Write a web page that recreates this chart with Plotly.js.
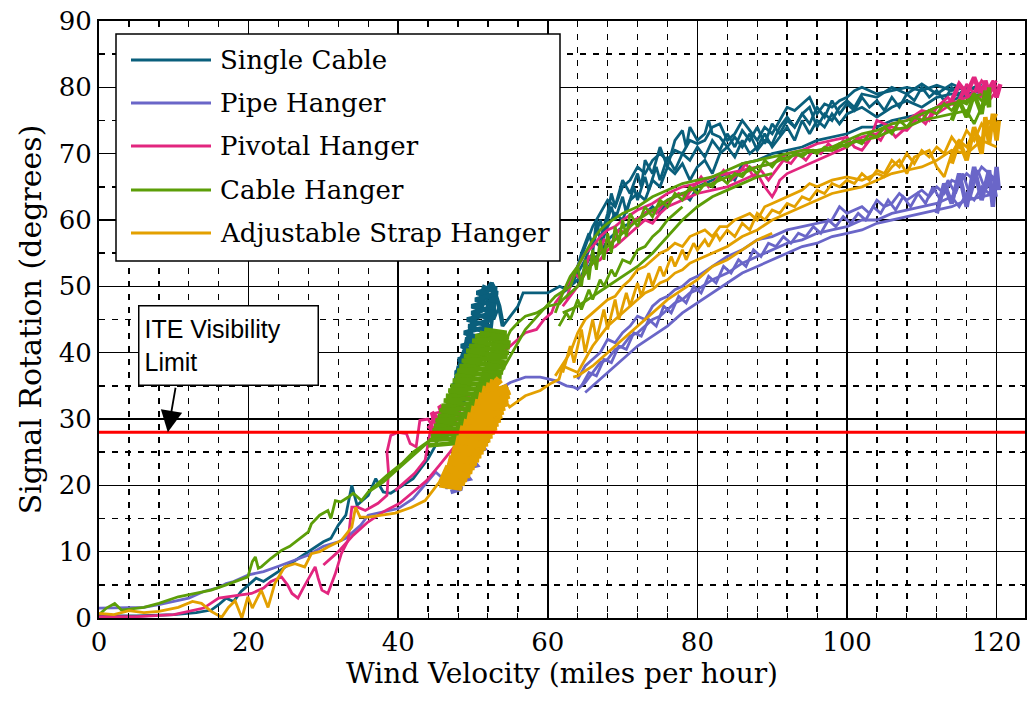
<!DOCTYPE html>
<html>
<head>
<meta charset="utf-8">
<script src="https://cdn.plot.ly/plotly-3.0.1.min.js"></script>
<style>html,body{margin:0;padding:0;background:#fff;}#chart{width:1028px;height:703px;}</style>
</head>
<body>
<div id="chart"></div>
<script>
// ---- Data (wind velocity mph, signal rotation degrees), each series = several test runs ----
const seriesNames = ["Single Cable", "Pipe Hanger", "Pivotal Hanger", "Cable Hanger", "Adjustable Strap Hanger"];
const seriesColors = ["#0a5f7c", "#6a66c8", "#e2267f", "#5c9e08", "#e3a000"];
const iteLimit = 28;

// long runs (traced as normal lines)
const singleCableRuns = [
  [[0,0.3],[5,0.3],[10,0.5],[13,0.8],[15,1.2],[16,2],[17,3],[18,2.5],[19,4],[20,5],[21,6],[22,5.5],[24,7],[26,8.5],[28,10],[30,11.5],[31,12],[32,14],[33,15.5],[33.8,20],[34.5,17],[35,17.5],[36,18.5],[37,21],[38,19],[39,18.8],[40,19.5],[42,21],[43,22.5],[44,24],[45,26],[46,29],[46.5,31],[47.5,35],[47,33],[48,38],[47.6,36],[48.6,40],[48.1,37],[49.1,42],[48.6,39],[49.6,44],[49.1,41],[50.1,46],[49.6,42],[50.6,47],[50.1,44],[51.1,49],[50.6,45],[51.6,49.5],[51.1,46],[52,50],[51.8,44],[52.6,48],[52.3,42],[53.1,50],[52.8,45],[53.5,47],[54,44],[55,45.5],[56,47],[56.7,49],[58,49],[60,49],[61.6,50],[62.5,49.5],[63.4,51],[64,53],[65,56],[66,59],[67,61],[68,63],[69,62],[70,65],[71,66],[72,68],[73,67],[74,69],[75,70],[76,69],[77,70.5],[78,70],[79,72],[80,71.5],[81,72],[82,74],[83,74.5],[84,72],[85,73],[86,75],[87,73.5],[88,72],[89,74],[90,73],[91,75],[92,77],[93,76.5],[94,77.5],[95,78.5],[96,76],[97,77.5],[98,77],[99,78],[100,78.5],[101,79.5],[102,80],[104,79],[106,79.5],[108,80],[110,79.5],[112,80.3],[114,79.5],[116,80],[118,79.5],[119,80]],
  [[62,49],[63,50],[64,52],[65,54],[66,57],[67,56],[68,59],[69,61],[70,60],[71,63],[72,64],[73,63],[74,66],[75,65],[76,68],[77,67],[78,68.5],[79,66],[80,68],[81,69],[82,67],[83,70],[84,71],[85,69.5],[86,72],[87,70],[88,71],[89,73],[90,71],[91,72.5],[92,74],[93,72],[94,75],[95,73],[96,75],[97,74],[98,76],[99,74.5],[100,76],[102,77],[104,75.5],[106,77],[108,78],[110,77],[112,78.5],[114,79],[116,78.5],[118,79]],
  [[63,50],[64,51],[65,52],[66,54],[67,55],[68,57],[69,58],[70,59],[72,60],[74,62],[75,61],[76,63],[78,64],[79,63],[80,65],[82,66],[84,67],[85,66],[86,68.5],[88,69],[90,70],[92,70.5],[94,71],[96,72],[98,72.5],[100,73],[102,74],[104,74],[106,75],[108,75.5],[110,76],[112,77],[114,78],[116,79],[118,79.5]],
  [[63.5,51],[64.5,55],[65.5,58],[66,56],[67,60],[67.5,58],[68.5,62],[69,60],[70,63.5],[70.5,61],[71.5,65],[72,63],[73,66.5],[73.5,64.5],[74.5,68],[75,66],[76,69.5],[77,67.5],[78,70],[79,69],[80,71],[81,69.5],[82,72],[83,70.5],[84,73],[85,71],[86,73.5],[87,72],[88,74],[89,71.5],[90,74.5],[91,73],[92,75],[93,74],[94,76],[95,74.5],[96,77],[97,75.5],[98,78],[99,76],[100,77.5],[101,76.5],[102,78.5],[103,77],[104,78],[105,76.5],[106,78.5],[107,77],[108,79],[109,78],[110,80],[111,78.5],[112,79.5],[113,78],[114,80],[115,79],[116,80]],
  [[64,50],[65,53],[66,55],[66.5,60],[67,57],[68,61],[68.5,64],[69,62],[70,66],[71,64],[72,67],[72.5,65],[73,69],[74,67],[75,71],[76,68],[77,72],[78,73.5],[78.5,71],[79,74],[80,72],[81,73],[81.5,75],[82,73],[83,72.5],[84,71],[85,72.5],[86,71],[87,73],[88,70.5],[89,72],[90,71.5],[91,74],[92,75.5],[93,74],[94,76],[95,77],[96,74],[97,76],[98,75],[99,77],[100,78],[101,77],[102,79],[104,78.5],[106,80],[108,79],[110,80.5],[112,79],[114,80.5],[116,79.5],[118,80.5]]
];
// dense clusters (traced with a heavier stroke)
const singleCableBlob = [
  [[46.5,31],[48.5,32],[46.8,33],[49.2,34],[47.2,35],[49.8,36],[47.6,37],[50.4,38],[48,39],[51,40],[48.4,41],[51.6,42],[48.8,43],[52.2,44],[49.2,45],[52.8,46],[49.8,47],[53.2,48],[50.5,49],[53,50],[51.5,49],[52.5,50.5],[53.5,47],[54,44]],
  [[47,32],[49,33],[47.4,34],[49.6,35],[47.8,36],[50.2,37],[48.2,38],[50.8,39],[48.6,40],[51.4,41],[49,42],[52,43],[49.4,44],[52.6,45],[49.8,46],[53,47],[50.3,48],[53.3,49],[51.2,50]]
];

const pipeHangerRuns = [
  [[0,1.5],[3,1.5],[6,1.6],[8,2],[10,2.5],[12,3],[14,4],[16,4.6],[17,5.2],[18,5.5],[20,6.5],[22,7],[24,7.8],[26,8.7],[28,9.5],[30,10.8],[32,11.5],[33,12],[34,13],[35,14],[36,15.5],[38,16],[40,16.5],[42,18],[43.5,20],[45,22],[46,21],[46.5,19.5],[47,21],[47.5,19.8],[48,22],[48.5,21],[49,24],[49.5,23],[50,26],[50.5,25],[51,28],[51.5,30],[52,31],[52.5,33],[53.5,34.5],[55,35.5],[57,36.3],[59,36.3],[61,35.8],[62.5,35],[63.5,34.8],[64,34.5],[65,35.5],[66,37],[67,38.5],[68,39],[69,40.5],[70,41],[71,42.5],[72,43],[73,44],[74,45],[75,45.5],[76,46.5],[77,47.5],[78,48],[79,49],[80,49.5],[82,51],[84,52],[86,53.5],[88,54.5],[90,55.5],[92,56.5],[94,57],[96,58],[98,58.5],[100,59],[102,60],[104,60],[106,61],[108,61.5],[110,62],[112,62.5],[114,63.5],[115,62],[116,64],[117,63],[118,65],[119,64],[120,65.5]],
  [[64,36],[65,38],[66,39],[67,40],[68,42],[69,41.5],[70,43],[71,44],[72,45.5],[73,45],[74,47],[75,48],[76,48.5],[77,49.5],[78,50],[79,51],[80,51.5],[82,53],[84,54.5],[86,55.5],[88,57],[90,57.5],[92,58.5],[94,59],[96,59.5],[98,60],[99,62],[100,61],[102,62],[103,61],[104,63],[105,62],[106,62.5],[107,64],[108,63],[110,64.5],[111,63.5],[112,65],[113,64],[114,66],[115,65.5],[116,67],[117,66],[118,68],[119,67],[120,66]],
  [[65,34],[66,35],[67,36],[68,37],[69,38],[70,39],[71,40],[72,41],[74,42.5],[76,44],[78,46],[80,47.5],[82,49],[84,50.5],[86,52],[88,53],[90,54],[92,55],[94,56],[96,56.5],[98,57.5],[100,58],[102,58.5],[104,59.5],[106,60],[108,60.5],[110,61],[112,61.5],[114,62],[116,63],[118,63.5],[120,64]],
  [[64.5,35],[65.5,37],[66.5,36.5],[67.5,39],[68.5,38.5],[69.5,41],[70.5,40.5],[71.5,43],[72.5,42.5],[73.5,45],[74.5,44],[75.5,47],[76.5,46],[77.5,48.5],[78.5,47.5],[79.5,50],[80.5,49],[81.5,51.5],[82.5,50.5],[83.5,53],[84.5,52],[85.5,54],[86.5,53],[87.5,55.5],[88.5,54.5],[89.5,56.5],[90.5,56],[91.5,57.5],[92.5,56.5],[93.5,58],[94.5,57.5],[95.5,59],[96.5,58],[97.5,60],[98.5,59],[99.5,60.5],[100.5,59.5],[101.5,61],[102.5,60],[103.5,62],[104.5,61],[105.5,63],[106.5,61.5],[107.5,63.5],[108.5,62],[109.5,64],[110.5,62.5],[111.5,65],[112.5,63],[113.5,66],[114.5,64],[115.5,67],[116.5,63.5],[117.5,67.5],[118.5,64.5],[119.5,66.5],[120,63.5]]
];
const pipeHangerBlob = [
  [[47,19],[48.5,19.5],[47.5,20.5],[49.5,21],[48.5,22.5],[50.5,23],[49.5,24.5],[51.5,25.5],[50.5,27],[52.5,28],[51.5,29],[53,30.5],[52.5,31.5],[53.5,33]],
  [[112,61],[113,65.5],[114,62.5],[115,67],[116,62],[117,68],[118,63],[119,67.5],[119.5,62],[120,68],[120.3,64.5]]
];

const pivotalHangerRuns = [
  [[0,0.2],[5,0.2],[10,0.5],[14,1.5],[16,3],[18.6,3.4],[20.4,3.7],[22,4.5],[23,5.5],[24.4,6.2],[25.2,5],[25.8,3.7],[26.6,3],[27.3,4.5],[27.9,5.7],[28.9,7.7],[29.3,6],[29.8,4.2],[30.6,3.7],[31.6,6.7],[32.4,9.7],[33.3,11.7],[33.8,16.7],[34.6,16.7],[35.6,16.2],[37.3,17.3],[38.5,18.5],[38.7,22],[38.5,25],[39,27.5],[40,28],[41.1,27.8],[41.6,26.3],[42.4,25.8],[42.9,29.8],[44,30],[45,28],[46,31],[46.5,27],[47,30],[47.5,26],[48,29.5],[48.5,27],[49,31],[49.5,28],[50,33],[50.5,30],[51,35],[51.5,33],[52,38],[53,39],[54,40],[55,41],[56,42],[57,43],[58.5,43.5],[59.5,45],[60.5,46],[61,47.5],[62,49],[63,51],[64,53],[65,55],[66,56],[67,57.5],[68,58.5],[69,59],[70,60],[72,61.5],[74,62.5],[76,64],[78,65],[80,65.5],[82,66.5],[84,67],[86,67.5],[88,68],[90,68.5],[92,70],[94,70.5],[96,71.5],[98,72],[100,72.5],[101,71],[102,70.5],[103,72],[104,75],[106,74],[108,73.5],[110,76],[111,75],[112,77],[114,78],[115,77.5],[116,80.5],[117,79],[118,81],[119,79.5],[120,81]],
  [[30,8],[32,10],[34,12.5],[36,14.5],[38,16],[40.2,17.3],[42,19],[43.8,20.7],[45.5,23],[47,25],[48,26.5]],
  [[39.6,19.2],[42.2,21.8],[43.6,23.8],[44.7,30.8],[46.5,31.3],[47.5,29],[48.5,32],[49.5,30],[50.5,34],[51.5,36]],
  [[62,47],[63,48.5],[64,50],[65,52],[66,53.5],[67,54],[68,55.5],[69,56],[70,57],[71,58],[72,59],[73,60],[74,59.5],[75,61],[76,62],[78,63],[80,64],[82,64.5],[84,65],[86,66],[88,67],[89,65],[90,63.5],[90.5,64.5],[91,66],[92,67],[94,68],[96,69],[98,70],[100,71],[102,72.5],[104,73],[106,74.5],[108,75],[110,76.5],[112,76],[114,77.5],[116,78.5],[118,80],[119,78],[120,79.5]],
  [[62.5,48],[63.5,52],[64.5,51],[65.5,54.5],[66.5,54],[67.5,57],[68.5,56.5],[69.5,58.5],[70.5,58],[71.5,60],[72.5,60.5],[73.5,61.5],[74.5,61],[75.5,62.5],[76.5,63],[77.5,64],[78.5,63.5],[79.5,65],[80.5,66.5],[81.5,65],[82.5,66],[83.5,67.5],[84.5,66],[85.5,67],[86.5,68.5],[87.5,66.5],[88.5,67.5],[89.5,66],[90.5,67.5],[91.5,69],[92.5,68.5],[93.5,70],[94.5,69],[95.5,70.5],[96.5,70],[97.5,71.5],[98.5,70.5],[99.5,72],[100.5,71.5],[101.5,72.5],[102.5,71.5],[103.5,73],[104.5,72],[105.5,74],[106.5,72.5],[107.5,73.5],[108.5,74.5],[109.5,75.5],[110.5,74.5],[111.5,76.5],[112.5,77.5],[113.5,78.5],[114.5,77],[115.5,79.5],[116.5,78],[117.5,80.5],[118.5,79],[119.5,81],[120,80]]
];
const pivotalHangerBlob = [
  [[44,29],[45.5,27.5],[44.5,31],[46.5,28.5],[45.5,32],[47.5,30],[46.5,33],[48.5,31.5],[47.5,34],[49.5,33],[48.5,35]],
  [[114,78],[115,80.5],[116,79],[117,81.5],[118,78.5],[118.5,81],[119,79],[119.5,80.5],[120,78.5],[120.5,80.5]]
];

const cableHangerRuns = [
  [[0,0.5],[1,1.5],[2.1,2.2],[3,1.2],[6,1.6],[8,2.2],[10.6,3.2],[13,3.8],[15,4.2],[17,5],[18.6,5.7],[19.9,6.2],[20.5,8.5],[20.9,9.2],[21.3,7.5],[21.7,7.7],[23,9],[24.4,10.2],[25.5,10.8],[27.1,12.2],[28,13],[28.4,14.2],[29.5,15.5],[30.6,16.2],[31,15],[31.6,17.7],[32.3,17.5],[33.3,18.2],[34,18.8],[35.1,17.7],[36,19],[37.3,20.3],[38.5,21.5],[40.5,23.3],[42,25],[43.6,26.3],[44.5,27],[45.5,30],[45,26],[46,31],[45.5,27],[46.5,32],[46,28],[47,34],[46.5,29],[47.5,35],[47,30],[48,37],[47.5,31],[48.5,38],[48,32],[49,39],[48.5,33],[49.5,40],[49,34],[50,41],[49.5,35],[50.5,42],[50,36],[51,42.5],[50.5,37],[51.5,43],[51,38],[52,43.5],[51.5,38],[52.5,43],[52.8,40],[53.5,43],[54,41],[55,43.3],[56,44.5],[57,45.5],[58.5,46],[60,47],[61.6,47.4],[62,48],[63,49],[64,50],[65,52],[66,53.5],[67,55],[68,56],[70,58],[72,60],[74,61.5],[76,63],[78,64],[80,65],[82,65.5],[84,66.5],[86,67],[88,68],[90,68.5],[92,69.5],[94,70],[96,70.5],[98,70.5],[100,71.5],[102,72],[104,72.5],[106,73.5],[108,74],[110,75],[112,75.5],[114,76],[116,76.5],[117,74.5],[118,77],[119,78]],
  [[36,19],[38,20.5],[40.2,22.7],[43.3,25.8],[46,28.5],[49.2,31],[51,32.8],[53,35.5],[55,39.5],[57,43.5],[59,46],[61,48.5],[63,50],[64,53],[65,55],[66,57],[67,58.5],[68,59.5],[70,61],[72,62],[74,63.5],[76,64.5],[78,65.5],[80,66],[82,66.5],[84,67.5],[86,68.5],[88,69],[90,69.5],[92,70],[94,70.5],[96,70.5],[98,71],[100,72],[102,73],[104,73.5],[106,74.5],[108,75],[110,76],[112,77],[114,77.5],[116,78],[118,79]],
  [[62,46],[64,47],[66,48.5],[68,50],[70,51.5],[72,53],[74,55],[76,57.5],[78,60],[80,62],[82,63.5],[84,64.5],[86,65.5],[88,66.5],[90,67]],
  [[61,46],[62,49],[63,51.5],[64,53],[64.5,50],[65,54],[65.5,51],[66,55.5],[66.5,52.5],[67,57],[67.5,54],[68,58],[68.5,55],[69,59],[69.5,56.5],[70,60],[70.5,57.5],[71,61],[72,59],[73,62],[74,60.5],[75,63],[76,62],[77,64],[78,63],[79,65],[80,64],[81,65.5],[82,65],[83,66.5],[84,65.5],[85,67],[86,66.5],[87,68],[88,67],[89,69],[90,68],[91,69.5],[92,69],[93,70],[94,69.5],[95,70.5],[96,70],[97,71],[98,70.5],[99,71.5],[100,71],[101,72],[102,71.5],[103,73],[104,72.5],[105,74],[106,73],[107,75],[108,74],[109,75.5],[110,75],[111,76.5],[112,76],[113,77.5],[114,76.5],[115,78],[116,77.5],[117,79],[118,78],[119,79.5]],
  [[61.5,44],[62.5,46],[63,45],[64,48],[64.5,46.5],[65.5,49.5],[66,48],[67,51],[67.5,50],[68.5,52.5],[69,51.5],[70,54],[71,53.5],[72,55.5],[73,56],[74,57.5],[75,58.5],[76,60],[77,61],[78,62]]
];
const cableHangerBlob = [
  [[44,26],[49,26.5],[44.4,27.5],[49.8,28],[44.8,29],[50.6,29.5],[45.3,30.5],[51.4,31],[45.8,32],[52.2,32.5],[46.4,33.5],[52.9,34],[47,35],[53.5,35.5],[47.6,36.5],[54,37],[48.2,38],[54.5,38.5],[48.8,39.5],[54.8,40],[49.5,41],[55,41.5],[50.3,42.5],[54.5,43],[51.5,43.5]],
  [[44.2,26.8],[49.4,27.2],[44.6,28.3],[50.2,28.8],[45,29.8],[51,30.3],[45.5,31.3],[51.8,31.8],[46.1,32.8],[52.5,33.3],[46.7,34.3],[53.2,34.8],[47.3,35.8],[53.8,36.3],[47.9,37.3],[54.3,37.8],[48.5,38.8],[54.6,39.3],[49.1,40.3],[54.9,40.8],[49.9,41.8],[54.8,42.3],[50.9,43]],
  [[114,75],[115,78],[116,75.5],[117,79],[118,76],[118.5,79.5],[119,77],[119,80]]
];

const adjustableStrapRuns = [
  [[0,0.7],[2,0.5],[4,1.1],[6,0.8],[8,1],[10.6,1.6],[12.5,2.5],[13.7,2.2],[15,1],[16.4,0.1],[17.3,1.6],[18.2,2.6],[19.1,0],[19.9,3.2],[20.5,1.5],[21.7,4.2],[22.6,1.6],[23.5,5.2],[24.8,7.7],[26.2,8.2],[27.5,7.7],[28.4,9.7],[29.5,10],[30.6,10.7],[32.4,11.7],[33.8,13.7],[34.3,16.7],[34.9,15.2],[36,15.2],[38,15.5],[39.6,15.8],[41.8,16.7],[43.6,17.7],[44.5,19],[45.5,20.5],[46.5,23],[46,20],[47,24.5],[46.5,21],[47.5,26],[47,22],[48,27.5],[47.5,23],[48.5,29],[48,24],[49,30],[48.5,25],[49.5,31],[49,26],[50,32],[49.5,27],[50.5,33],[50,28],[51,34],[50.5,29],[51.5,35],[51,30],[52,35.5],[51.5,31],[52.5,36],[52,32],[53,36],[53.5,34],[54.9,31.8],[57,33.5],[59,34.3],[60.3,35.3],[61.5,36],[62,38],[63,37.5],[64,37],[65,39],[66,41],[67,42.5],[68,44],[69,45],[70,46],[71,47],[72,48],[73,49],[74,49.5],[75,50.5],[76,51],[77,52],[78,52.5],[79,53.5],[80,54],[82,55],[84,56],[86,57.5],[88,58.5],[90,60],[92,61],[94,62],[96,63],[98,64],[100,64.5],[102,65],[104,66],[106,67],[108,67.5],[110,68],[112,69],[114,70.5],[116,70],[118,72],[120,71]],
  [[61,36.5],[63,40],[64,43],[65,45],[66,46],[67,47],[68,48],[69,48.5],[70,50],[71,51],[72,52.5],[73,53],[74,54],[75,55],[76,55.5],[77,56.5],[78,56],[79,57.5],[80,58],[81,58.5],[82,57.5],[83,59],[84,59],[85,60],[86,60.5],[87,61],[88,60],[89,62],[90,62.5],[92,63.5],[94,64.5],[95,65.5],[96,65],[98,66],[100,66.5],[102,66],[104,67],[105,66.5],[106,68],[107,69],[108,67],[109,69.5],[110,70],[111,70.5],[112,68],[113,66.5],[114,70],[115,72],[116,71],[117,73.5],[118,72],[119,75],[120,73]],
  [[63.4,36.3],[64,36.5],[66,38],[68,40],[70,42],[72,44],[74,46],[76,48],[78,49.5],[80,51],[82,53],[84,54],[86,55.5],[88,57],[90,58]],
  [[62,37],[63,41],[63.5,38.5],[64.5,43.5],[65,40],[66,45],[66.5,42],[67.5,46.5],[68,43.5],[69,48],[69.5,45],[70.5,49],[71,47],[72,50.5],[72.5,48.5],[73.5,52],[74,50],[75,53],[75.5,51.5],[76.5,54.5],[77,53],[78,55.5],[78.5,54],[79.5,56.5],[80,55.5],[81,57],[81.5,56],[82.5,58],[83,57],[84,58.5],[85,57.5],[86,59.5],[87,58.5],[88,61],[89,60],[90,61.5],[91,61],[92,62.5],[93,62],[94,63.5],[95,63],[96,64.5],[97,64],[98,65.5],[99,65],[100,66],[101,65.5],[102,67],[103,66],[104,67.5],[105,67],[106,69],[107,68],[108,70],[109,68.5],[110,70.5],[111,69.5],[112,71],[113,70],[114,72.5],[115,71],[116,73.5],[117,72],[118,74.5],[119,73],[120,76]]
];
const adjustableStrapBlob = [
  [[45.5,20],[48.5,19.5],[45.8,21],[49.2,20.8],[46.2,22],[49.9,22],[46.6,23],[50.5,23.2],[47,24],[51.1,24.4],[47.4,25],[51.7,25.6],[47.8,26],[52.3,26.8],[48.2,27],[52.9,28],[48.6,28],[53.4,29.2],[49,29],[53.9,30.4],[49.5,30],[54.3,31.6],[50,31],[54.7,32.8],[50.6,32],[55,34],[51.2,33],[54.6,35],[51.9,34],[53.8,35.8],[52.6,35.2],[53.4,36.2]],
  [[45.6,20.5],[48.9,20.2],[46,21.5],[49.6,21.4],[46.4,22.5],[50.2,22.6],[46.8,23.5],[50.8,23.8],[47.2,24.5],[51.4,25],[47.6,25.5],[52,26.2],[48,26.5],[52.6,27.4],[48.4,27.5],[53.2,28.6],[48.8,28.5],[53.7,29.8],[49.2,29.5],[54.1,31],[49.7,30.5],[54.5,32.2],[50.3,31.5],[54.9,33.4],[50.9,32.5],[54.8,34.5],[51.6,33.5]],
  [[114,68.5],[115,72],[116,69],[117,74],[118,70],[118.5,75.5],[119,71.5],[119.5,76],[120,72],[120.3,75]]
];

const allRuns = [singleCableRuns, pipeHangerRuns, pivotalHangerRuns, cableHangerRuns, adjustableStrapRuns];
const allBlobs = [singleCableBlob, pipeHangerBlob, pivotalHangerBlob, cableHangerBlob, adjustableStrapBlob];

// ---- Build traces ----
function flatten(runs) {
  const x = [], y = [];
  runs.forEach((run, i) => {
    if (i > 0) { x.push(null); y.push(null); }
    run.forEach(p => { x.push(p[0]); y.push(p[1]); });
  });
  return {x, y};
}

const traces = [];
allRuns.forEach((runs, i) => {
  const d = flatten(runs);
  traces.push({type: 'scatter', mode: 'lines', name: seriesNames[i], x: d.x, y: d.y,
    connectgaps: false, showlegend: false, line: {color: seriesColors[i], width: 2.8}});
  const b = flatten(allBlobs[i]);
  traces.push({type: 'scatter', mode: 'lines', name: seriesNames[i], x: b.x, y: b.y,
    connectgaps: false, showlegend: false, line: {color: seriesColors[i], width: 4.5}});
});

// ---- Layout helpers (pixel -> paper) ----
const M = {l: 99, r: 3, t: 21, b: 85};
const W = 1028, H = 703;
const PW = W - M.l - M.r, PH = H - M.t - M.b;
const pxX = p => (p - M.l) / PW;
const pxY = p => (H - M.b - p) / PH;

const serif = 'DejaVu Serif, Liberation Serif, serif';
const shapes = [
  {type: 'line', xref: 'paper', yref: 'y', x0: 0, x1: 1, y0: iteLimit, y1: iteLimit,
   line: {color: '#ff0000', width: 3.2}, layer: 'above'},
  {type: 'rect', xref: 'paper', yref: 'paper', x0: pxX(116), x1: pxX(560), y0: pxY(261), y1: pxY(34),
   line: {color: '#000', width: 1.5}, fillcolor: '#fff', layer: 'above'}
];
const annotations = [];
const legendY = [60, 103, 146, 190, 233];
seriesNames.forEach((n, i) => {
  shapes.push({type: 'line', xref: 'paper', yref: 'paper', x0: pxX(131), x1: pxX(211),
    y0: pxY(legendY[i]), y1: pxY(legendY[i]), line: {color: seriesColors[i], width: 3}, layer: 'above'});
  annotations.push({xref: 'paper', yref: 'paper', x: pxX(218), y: pxY(legendY[i]), xanchor: 'left', yanchor: 'middle',
    text: n, showarrow: false, font: {family: serif, size: 26, color: '#000'}});
});

annotations.push({
  xref: 'paper', yref: 'paper', x: pxX(138), y: pxY(305), xanchor: 'left', yanchor: 'top',
  text: 'ITE Visibility<br>Limit', align: 'left', showarrow: false,
  font: {family: 'Liberation Sans, Arial, sans-serif', size: 25, color: '#000'},
  bgcolor: '#fff', bordercolor: '#000', borderwidth: 1.5, borderpad: 5, width: 168, height: 68
});
annotations.push({
  xref: 'x', yref: 'y', x: 9.2, y: iteLimit, text: '', showarrow: true,
  ax: 8, ay: -46, arrowhead: 2, arrowsize: 2.4, arrowwidth: 1.8, arrowcolor: '#000'
});

const layout = {
  width: W, height: H, margin: M,
  paper_bgcolor: '#fff', plot_bgcolor: '#fff',
  showlegend: false,
  xaxis: {
    range: [0, 123.8], dtick: 20, tick0: 0, showgrid: true, gridcolor: '#000', gridwidth: 1.5,
    zeroline: false, showline: true, linecolor: '#000', linewidth: 2, mirror: 'ticks',
    ticks: 'inside', ticklen: 6, tickcolor: '#000',
    minor: {dtick: 4, showgrid: true, gridcolor: '#000', gridwidth: 1.4, griddash: '6px,7px', ticks: 'inside', ticklen: 5, tickcolor: '#000'},
    tickfont: {family: serif, size: 26, color: '#000'},
    title: {text: 'Wind Velocity (miles per hour)', font: {family: serif, size: 28, color: '#000'}, standoff: 6}
  },
  yaxis: {
    range: [0, 90], dtick: 10, tick0: 0, showgrid: true, gridcolor: '#000', gridwidth: 1.5,
    zeroline: false, showline: true, linecolor: '#000', linewidth: 2, mirror: 'ticks',
    ticks: 'inside', ticklen: 6, tickcolor: '#000',
    minor: {dtick: 5, showgrid: true, gridcolor: '#000', gridwidth: 1.4, griddash: '6px,7px', ticks: 'inside', ticklen: 5, tickcolor: '#000'},
    tickfont: {family: serif, size: 26, color: '#000'},
    title: {text: 'Signal Rotation (degrees)', font: {family: serif, size: 30, color: '#000'}, standoff: 8}
  },
  shapes: shapes,
  annotations: annotations
};

Plotly.newPlot('chart', traces, layout, {displayModeBar: false, staticPlot: true});
</script>
</body>
</html>
